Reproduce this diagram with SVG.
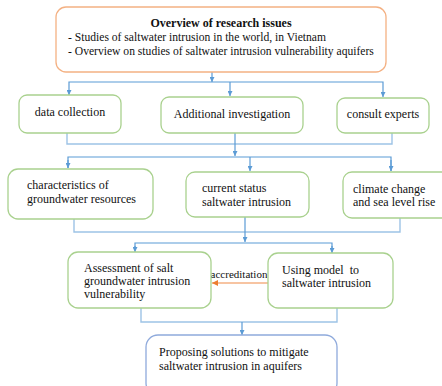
<svg xmlns="http://www.w3.org/2000/svg" width="442" height="386" viewBox="0 0 442 386" font-family="'Liberation Serif', 'DejaVu Serif', serif">
<defs>
<style>
.box{fill:#fff;stroke:#A9D18E;stroke-width:1.3}
.top{fill:#fff;stroke:#F4B183;stroke-width:1.3}
.fin{fill:#fff;stroke:#8FAADC;stroke-width:1.3}
text{font-family:'Liberation Serif','DejaVu Serif',serif;font-size:12px;fill:#111}
.c{text-anchor:middle}
.s{font-size:11.6px}
.ln{fill:none;stroke:#5B9BD5;stroke-width:1.2}
.lt{fill:none;stroke:#9DC3E6;stroke-width:1.4}
</style>
<marker id="ab" viewBox="0 0 10 10" refX="10" refY="5" markerWidth="5" markerHeight="5" orient="auto" markerUnits="userSpaceOnUse"><path d="M0,0 L10,5 L0,10 z" fill="#5B9BD5"/></marker>
<marker id="ao" viewBox="0 0 10 10" refX="10" refY="5" markerWidth="6" markerHeight="6" orient="auto" markerUnits="userSpaceOnUse"><path d="M0,0 L10,5 L0,10 z" fill="#ED7D31"/></marker>
</defs>
<rect width="442" height="386" fill="#fff"/>
<g id="connectors">
<path class="ln" d="M212,72 V82" marker-end="url(#ab)"/>
<path class="ln" d="M69,88 V82 H383 V88"/>
<path class="ln" d="M69,88 V95" marker-end="url(#ab)"/>
<path class="ln" d="M230,82 V96" marker-end="url(#ab)"/>
<path class="ln" d="M383,88 V97" marker-end="url(#ab)"/>
<path class="lt" d="M67,133 V144 H392 V133"/>
<path class="ln" d="M235,133 V156" marker-end="url(#ab)"/>
<path class="ln" d="M68,168 V157 H391 V171" />
<path class="ln" d="M68,160 V168" marker-end="url(#ab)"/>
<path class="ln" d="M250,157 V171" marker-end="url(#ab)"/>
<path class="ln" d="M391,160 V171" marker-end="url(#ab)"/>
<path class="lt" d="M74,219 V232 H400 V218"/>
<path class="ln" d="M245,217 V242" marker-end="url(#ab)"/>
<path class="ln" d="M135,250 V243 H332 V250"/>
<path class="ln" d="M135,246 V252" marker-end="url(#ab)"/>
<path class="ln" d="M332,246 V253" marker-end="url(#ab)"/>
<path class="lt" d="M141,308 V322 H337 V308"/>
<path class="ln" d="M242,322 V335" marker-end="url(#ab)"/>
<path d="M268,283 H212" stroke="#F4B183" stroke-width="1.4" fill="none" marker-end="url(#ao)"/>
<text x="239" y="278" text-anchor="middle" style="font-size:11px">accreditation</text>
</g>
<g id="overview">
<rect class="top" x="56" y="7" width="330" height="65" rx="10"/>
<text class="c" x="221" y="27" font-weight="bold">Overview of research issues</text>
<text class="s" x="68" y="41">- Studies of saltwater intrusion in the world, in Vietnam</text>
<text class="s" x="68" y="55">- Overview on studies of saltwater intrusion vulnerability aquifers</text>
</g>
<g id="data-collection">
<rect class="box" x="19" y="95" width="102" height="38" rx="8"/>
<text class="c" x="70" y="116">data collection</text>
</g>
<g id="additional-investigation">
<rect class="box" x="161" y="97" width="142" height="36" rx="8"/>
<text class="c" x="232" y="118">Additional investigation</text>
</g>
<g id="consult-experts">
<rect class="box" x="337" y="98" width="92" height="35" rx="8"/>
<text class="c" x="383" y="118">consult experts</text>
</g>
<g id="characteristics">
<rect class="box" x="8" y="169" width="145" height="50" rx="10"/>
<text x="27" y="189">characteristics of</text>
<text x="27" y="203">groundwater resources</text>
</g>
<g id="current-status">
<rect class="box" x="186" y="172" width="123" height="45" rx="9"/>
<text x="202" y="192">current status</text>
<text x="202" y="206">saltwater intrusion</text>
</g>
<g id="climate-change">
<rect class="box" x="343" y="172" width="110" height="46" rx="9"/>
<text x="353" y="193">climate change</text>
<text x="353" y="206">and sea level rise</text>
</g>
<g id="assessment">
<rect class="box" x="68" y="252" width="143" height="56" rx="10"/>
<text x="84" y="272">Assessment of salt</text>
<text x="84" y="285">groundwater intrusion</text>
<text x="84" y="298">vulnerability</text>
</g>
<g id="using-model">
<rect class="box" x="268" y="253" width="125" height="55" rx="10"/>
<text x="282" y="274" xml:space="preserve">Using model  to</text>
<text x="282" y="287">saltwater intrusion</text>
</g>
<g id="proposing">
<rect class="fin" x="146" y="335" width="191" height="60" rx="12"/>
<text x="159" y="356">Proposing solutions to mitigate</text>
<text x="159" y="370">saltwater intrusion in aquifers</text>
</g>
</svg>
